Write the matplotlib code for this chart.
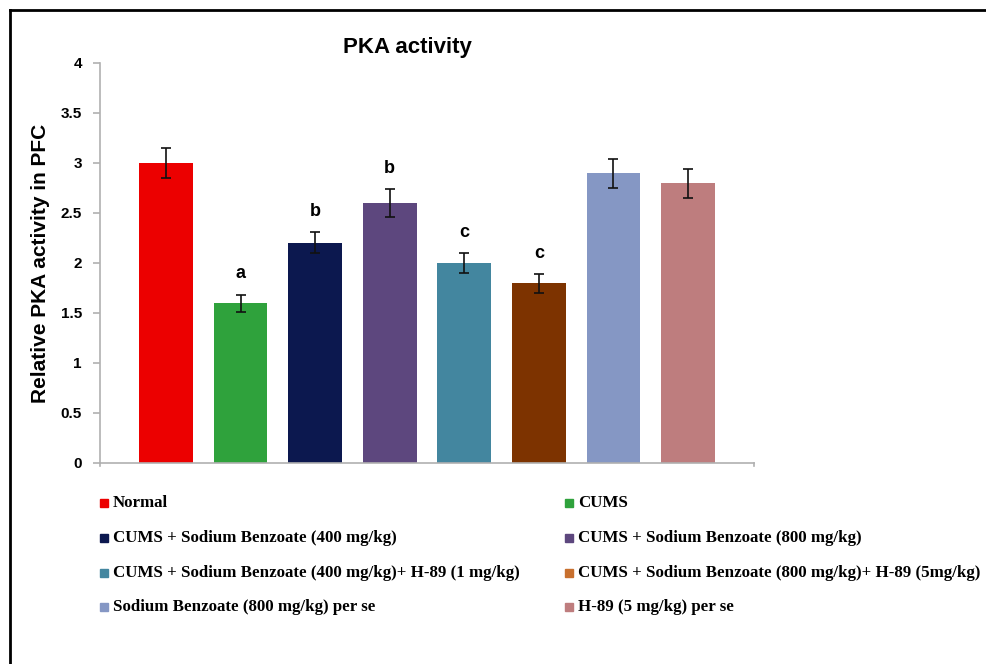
import matplotlib.pyplot as plt
from matplotlib.patches import Rectangle
from matplotlib.lines import Line2D

# group data
groups = ['Normal', 'CUMS',
          'CUMS + Sodium Benzoate (400 mg/kg)',
          'CUMS + Sodium Benzoate (800 mg/kg)',
          'CUMS + Sodium Benzoate (400 mg/kg)+ H-89 (1 mg/kg)',
          'CUMS + Sodium Benzoate (800 mg/kg)+ H-89 (5mg/kg)',
          'Sodium Benzoate (800 mg/kg) per se',
          'H-89 (5 mg/kg) per se']
pka = [3.0, 1.6, 2.2, 2.6, 2.0, 1.8, 2.9, 2.8]
sem = [0.15, 0.085, 0.105, 0.135, 0.10, 0.095, 0.145, 0.145]
letters = ['', 'a', 'b', 'b', 'c', 'c', '', '']
colors = ['#ec0000', '#2fa23c', '#0c184f', '#5d477e',
          '#43869f', '#7d3300', '#8597c4', '#be7d7e']
legend_colors = ['#ec0000', '#2fa23c', '#0c184f', '#5d477e',
                 '#43869f', '#c8702e', '#8597c4', '#be7d7e']

W, H = 986, 664
fig = plt.figure(figsize=(W / 100, H / 100), dpi=100)

# outer frame (top and left edges)
fig.add_artist(Line2D([10 / W, 1.0], [1 - 10 / H, 1 - 10 / H], color='black', lw=2))
fig.add_artist(Line2D([10 / W, 10 / W], [1 - 10 / H, 0], color='black', lw=2))

ax = fig.add_axes([100 / W, 1 - 463 / H, (754 - 100) / W, 400 / H])
x = list(range(len(groups)))
ax.bar(x, pka, width=0.72, color=colors, zorder=2)
ax.errorbar(x, pka, yerr=sem, fmt='none', ecolor='#111111', elinewidth=1.2,
            capsize=3.5, capthick=1.2, zorder=3)
for i in x:
    if letters[i]:
        ax.text(i, pka[i] + sem[i] + 0.12, letters[i], ha='center', va='bottom',
                fontsize=13, fontweight='bold', family='Liberation Sans')

ax.set_xlim(-0.885, 7.885)
ax.set_ylim(0, 4)
ax.set_yticks([0, 0.5, 1, 1.5, 2, 2.5, 3, 3.5, 4])
ax.set_yticklabels(['0', '0.5', '1', '1.5', '2', '2.5', '3', '3.5', '4'],
                   fontsize=11, fontweight='bold', family='Liberation Sans')
ax.set_xticks([])
for s in ['top', 'right']:
    ax.spines[s].set_visible(False)
for s in ['left', 'bottom']:
    ax.spines[s].set_color('#b0b0b0')
    ax.spines[s].set_linewidth(1.2)
ax.tick_params(axis='y', length=5, color='#b0b0b0', width=1.2, pad=8)
ax.set_ylabel('Relative PKA activity in PFC', fontsize=15, fontweight='bold',
              family='Liberation Sans', labelpad=8)
# end ticks on the category axis
ax.plot([-0.885, -0.885], [0, -0.03], color='#b0b0b0', lw=1.2, clip_on=False)
ax.plot([7.885, 7.885], [0, -0.03], color='#b0b0b0', lw=1.2, clip_on=False)

fig.text(407 / W, 1 - 47 / H, 'PKA activity', ha='center', va='center',
         fontsize=16, fontweight='bold', family='Liberation Sans')

# legend in two columns
col_x = [100, 565]
row_y = [503, 538, 573, 607]
for k, (name, c) in enumerate(zip(groups, legend_colors)):
    px = col_x[k % 2]
    py = row_y[k // 2]
    fig.add_artist(Rectangle((px / W, 1 - (py + 4) / H), 8 / W, 8 / H,
                             color=c, transform=fig.transFigure))
    fig.text((px + 13) / W, 1 - py / H, name, ha='left', va='center',
             fontsize=12.2, fontweight='bold', family='Liberation Serif')

fig.savefig('out.png', dpi=100)
